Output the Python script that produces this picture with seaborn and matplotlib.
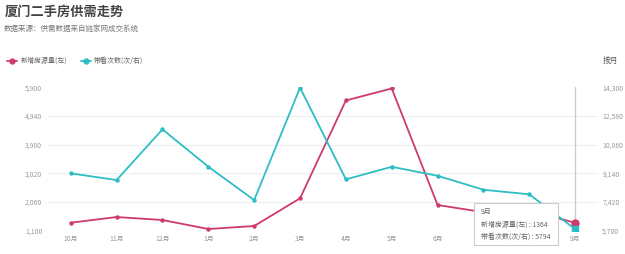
import matplotlib
matplotlib.use("Agg")
import matplotlib.pyplot as plt
import seaborn as sns
import pandas as pd
from matplotlib.ticker import FixedLocator, FuncFormatter
from matplotlib.patches import Rectangle

months = ["10月", "11月", "12月", "1月", "2月", "3月", "4月", "5月", "6月", "7月", "8月", "9月"]
new_listings = [1368, 1558, 1458, 1157, 1257, 2184, 5462, 5863, 1960, 1720, 1780, 1364]
viewings = [9140, 8740, 11780, 9540, 7540, 14280, 8780, 9536, 8996, 8157, 7882, 5794]
left_ticks = [1100, 2060, 3020, 3980, 4940, 5900]
right_ticks = [5700, 7420, 9140, 10860, 12580, 14300]

title = "厦门二手房供需走势"
subtitle = "数据来源：供需数据来自链家网成交系统"
label_left = "新增房源量(左)"
label_right = "带看次数(次/右)"

PINK = "#cc3a6e"
TEAL = "#2cbec4"
GRID = "#eeeeee"
TXT = "#999999"

sns.set_theme(style="white")
plt.rcParams['font.family'] = ['Noto Sans CJK SC', 'DejaVu Sans']

fig = plt.figure(figsize=(6.25, 2.54), dpi=100)
ax = fig.add_axes([0.0765, 0.0917, 0.957 - 0.0765, 0.656 - 0.0917])
ax2 = ax.twinx()

df = pd.DataFrame({"month": months, "new": new_listings, "view": viewings})
x = list(range(len(months)))
sns.lineplot(x=x, y=df["new"], ax=ax, color=PINK, marker="o", markersize=3.2,
             markeredgewidth=0, linewidth=1.3, sort=False, zorder=3)
sns.lineplot(x=x, y=df["view"], ax=ax2, color=TEAL, marker="o", markersize=3.2,
             markeredgewidth=0, linewidth=1.3, sort=False, zorder=3)
# hover highlight on last point
ax.plot([x[-1]], [new_listings[-1]], marker="o", color=PINK, markersize=5, zorder=4)
ax2.plot([x[-1]], [viewings[-1]], marker="s", color=TEAL, markersize=4.5, zorder=4)

ax.set_xlim(-0.5, len(months) - 0.5)
ax.set_ylim(left_ticks[0], left_ticks[-1])
ax2.set_ylim(right_ticks[0], right_ticks[-1])

ax.yaxis.set_major_locator(FixedLocator(left_ticks))
ax2.yaxis.set_major_locator(FixedLocator(right_ticks))
fmt = FuncFormatter(lambda v, p: f"{int(v):,}")
ax.yaxis.set_major_formatter(fmt)
ax2.yaxis.set_major_formatter(fmt)
ax.set_xticks(x)
ax.set_xticklabels(months)

for a in (ax, ax2):
    a.set_xlabel("")
    a.set_ylabel("")
    for s in a.spines.values():
        s.set_visible(False)
    a.tick_params(axis="both", length=0, labelsize=4.9, colors=TXT)
ax.tick_params(axis="y", pad=4)
ax2.tick_params(axis="y", pad=3)
ax.tick_params(axis="x", pad=3)

# the hover tooltip covers the 7月 and 8月 labels in the original
for lbl in ax.get_xticklabels():
    if lbl.get_text() in ("7月", "8月"):
        lbl.set_visible(False)

for t in left_ticks[1:-1]:
    ax.axhline(t, color=GRID, lw=0.8, zorder=0)
ax.axhline(left_ticks[0], color="#dddddd", lw=0.8, zorder=0)

# crosshair on last month
ax.axvline(x[-1], color="#cccccc", lw=1, zorder=1)

# tooltip
tip = f"{months[-1]}\n{label_left} : {new_listings[-1]}\n{label_right} : {viewings[-1]}"
fig.patches.append(Rectangle((474 / 625, 1 - 245 / 254), 84 / 625, 42 / 254,
                             transform=fig.transFigure, facecolor="white",
                             edgecolor="#cccccc", lw=0.8, zorder=10))
fig.text(481 / 625, 1 - 208 / 254, tip, fontsize=5.0, color="#666666", va="top",
         ha="left", linespacing=1.75, zorder=11)

# title & subtitle
fig.text(5 / 625, 1 - 12 / 254, title, fontsize=9.5, fontweight="bold",
         color="#444444", va="center", ha="left")
fig.text(4 / 625, 1 - 29 / 254, subtitle, fontsize=5.4, color="#777777",
         va="center", ha="left")

# legend
ly = 1 - 61 / 254
for (x0, tx, col, lab) in [(7, 21, PINK, label_left), (81, 94, TEAL, label_right)]:
    fig.lines.append(plt.Line2D([x0 / 625, (x0 + 10) / 625], [ly, ly], color=col, lw=1.3,
                                transform=fig.transFigure))
    fig.lines.append(plt.Line2D([(x0 + 5) / 625], [ly], color=col, marker="o", markersize=3.5,
                                transform=fig.transFigure))
    fig.text(tx / 625, ly, lab, fontsize=5.0, color="#666666", va="center", ha="left")

fig.text(603 / 625, ly, "按月", fontsize=5.6, color="#555555", va="center", ha="left")

fig.savefig("out.png", dpi=100, facecolor="white")
